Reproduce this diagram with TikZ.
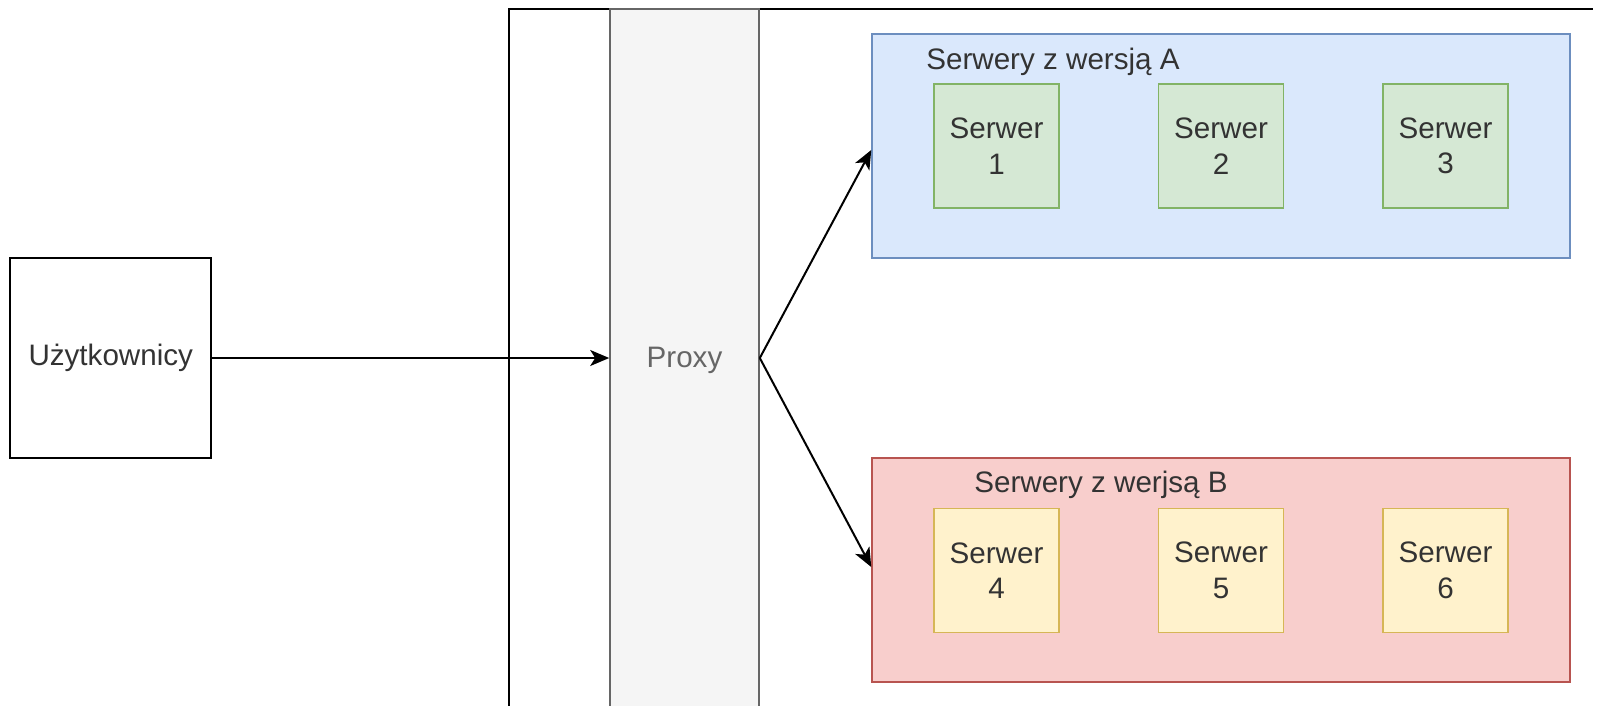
\documentclass[tikz,border=0pt]{standalone}
\usepackage{fontspec}
\setmainfont{Liberation Sans}
\usetikzlibrary{arrows.meta}
\definecolor{txt}{HTML}{333333}
\definecolor{proxytxt}{HTML}{666666}
\definecolor{aFill}{HTML}{DAE8FC}\definecolor{aLine}{HTML}{6C8EBF}
\definecolor{gFill}{HTML}{D5E8D4}\definecolor{gLine}{HTML}{82B366}
\definecolor{bFill}{HTML}{F8CECC}\definecolor{bLine}{HTML}{B85450}
\definecolor{yFill}{HTML}{FFF2CC}\definecolor{yLine}{HTML}{D6B656}
\definecolor{pFill}{HTML}{F5F5F5}\definecolor{pLine}{HTML}{666666}
\tikzset{
  base/.style={rectangle, inner sep=0pt, text=txt, align=center,
    font=\fontsize{29.6}{35.5}\selectfont},
  userbox/.style={base, draw=black, line width=2pt, fill=white,
    minimum width=201pt, minimum height=200pt},
  proxybox/.style={base, draw=pLine, line width=1.6pt, fill=pFill, text=proxytxt,
    minimum width=149pt, minimum height=702pt},
  groupbox/.style={base, line width=1.5pt, minimum width=698pt, minimum height=224pt},
  srvbox/.style={base, line width=1.5pt, minimum width=125pt, minimum height=124pt},
  title/.style={base},
  conn/.style={draw=black, line width=2pt,
    -{Stealth[length=19pt,width=16pt,inset=5pt]}},
  framestyle/.style={draw=black, line width=2pt}
}
\begin{document}
\begin{tikzpicture}[x=1pt,y=-1pt]
\clip (0,0) rectangle (1602,705);
\fill[white] (0,0) rectangle (1602,705);
% outer frame
\coordinate (fbl) at (509,720);
\coordinate (ftr) at (1593,9);
\draw[framestyle] (fbl) |- (ftr);
% proxy column
\node[proxybox] (proxy) at (684.5,360) {Proxy};
% users
\node[userbox] (users) at (110.75,358) {Użytkownicy};
% group A
\node[groupbox, draw=aLine, fill=aFill] (groupA) at (1221,146) {};
\node[title] (titleA) at (1053,62) {Serwery z wersją A};
\node[srvbox, draw=gLine, fill=gFill] (s1) at (996.5,146) {Serwer\\1};
\node[srvbox, draw=gLine, fill=gFill] (s2) at (1221,146) {Serwer\\2};
\node[srvbox, draw=gLine, fill=gFill] (s3) at (1445.5,146) {Serwer\\3};
% group B
\node[groupbox, draw=bLine, fill=bFill] (groupB) at (1221,570) {};
\node[title] (titleB) at (1101,485) {Serwery z werjsą B};
\node[srvbox, draw=yLine, fill=yFill] (s4) at (996.5,570.5) {Serwer\\4};
\node[srvbox, draw=yLine, fill=yFill] (s5) at (1221,570.5) {Serwer\\5};
\node[srvbox, draw=yLine, fill=yFill] (s6) at (1445.5,570.5) {Serwer\\6};
% connectors
\draw[conn] (users.east) -- (users.east -| proxy.west);
\draw[conn] ([yshift=2pt]proxy.east) -- ([yshift=-4pt]groupA.west);
\draw[conn] ([yshift=2pt]proxy.east) -- ([yshift=3pt]groupB.west);
\end{tikzpicture}
\end{document}
